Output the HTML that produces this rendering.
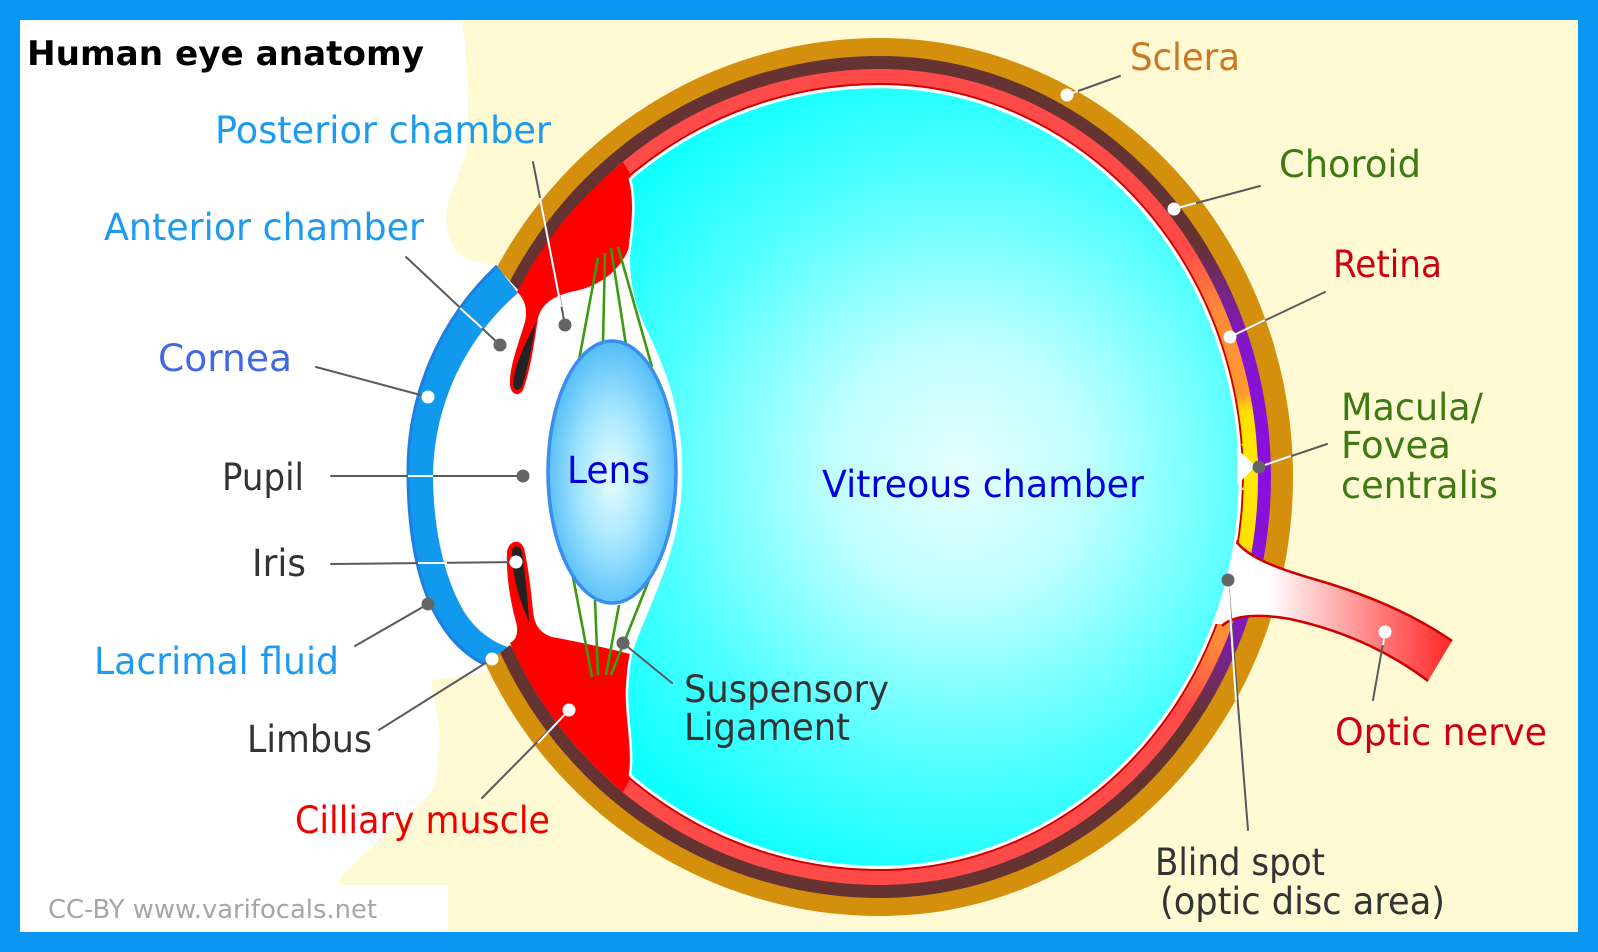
<!DOCTYPE html>
<html>
<head>
<meta charset="utf-8">
<style>
html,body{margin:0;padding:0;background:#0A97F4;}
svg{display:block;}
text{font-family:"DejaVu Sans","Liberation Sans",sans-serif;}
</style>
</head>
<body>
<svg width="1598" height="952" viewBox="0 0 1598 952" xmlns="http://www.w3.org/2000/svg">
<defs>
  <radialGradient id="gRet" gradientUnits="userSpaceOnUse" cx="1262" cy="478" r="430">
    <stop offset="0" stop-color="#FFEA00"/>
    <stop offset="0.16" stop-color="#FFE000"/>
    <stop offset="0.2" stop-color="#FF9A30"/>
    <stop offset="0.4" stop-color="#FF8A3A"/>
    <stop offset="0.56" stop-color="#FF4A4A"/>
    <stop offset="1" stop-color="#FF4A4A"/>
  </radialGradient>
  <radialGradient id="gCho" gradientUnits="userSpaceOnUse" cx="1262" cy="478" r="430">
    <stop offset="0" stop-color="#8A0FE0"/>
    <stop offset="0.3" stop-color="#8514D0"/>
    <stop offset="0.42" stop-color="#782290"/>
    <stop offset="0.56" stop-color="#663333"/>
    <stop offset="1" stop-color="#663333"/>
  </radialGradient>
  <radialGradient id="gCyan" gradientUnits="userSpaceOnUse" cx="960" cy="470" r="430">
    <stop offset="0" stop-color="#E6FFFF"/>
    <stop offset="0.3" stop-color="#BFFFFF"/>
    <stop offset="0.7" stop-color="#50FFFF"/>
    <stop offset="1" stop-color="#10FFFF"/>
  </radialGradient>
  <radialGradient id="gLens" cx="0.5" cy="0.52" r="0.55">
    <stop offset="0" stop-color="#E8FFFF"/>
    <stop offset="0.5" stop-color="#A0E4FF"/>
    <stop offset="1" stop-color="#4AB8F5"/>
  </radialGradient>
  <linearGradient id="gNerve" gradientUnits="userSpaceOnUse" x1="1245" y1="0" x2="1445" y2="0">
    <stop offset="0" stop-color="#FFFFFF"/>
    <stop offset="0.12" stop-color="#FFFFFF"/>
    <stop offset="1" stop-color="#FF2E2E"/>
  </linearGradient>
</defs>

<!-- frame -->
<rect x="0" y="0" width="1598" height="952" fill="#0A97F4"/>
<rect x="20" y="20" width="1558" height="912" fill="#FFFFFF"/>

<!-- cream background -->
<path d="M 462 20 L 1578 20 L 1578 932 L 320 932 L 337 883 C 355 860, 372 848, 383 837 C 410 812, 428 800, 433 787 C 440 765, 440 735, 438 720 C 436 700, 430 688, 432 680 L 486 672 L 600 470 L 497 266 C 480 262, 468 262, 460 255 C 448 245, 445 225, 447 210 C 450 190, 460 175, 466 150 C 470 120, 468 80, 466 60 C 465 40, 463 30, 462 20 Z" fill="#FFFAD4"/>

<!-- watermark box -->
<rect x="20" y="885" width="428" height="47" fill="#FFFFFF"/>
<text x="48" y="918" font-size="26" fill="#A6A6A6" textLength="329" lengthAdjust="spacingAndGlyphs">CC-BY www.varifocals.net</text>

<!-- eye layers -->
<path d="M 880 38 A 413 439 0 0 1 880 916 A 436 439 0 0 1 880 38 Z" fill="#D4900C"/>
<path d="M 880 56 A 391 421 0 0 1 880 898 A 418 421 0 0 1 880 56 Z" fill="url(#gCho)"/>
<path d="M 880 69 A 378 408 0 0 1 880 885 A 405 408 0 0 1 880 69 Z" fill="url(#gRet)"/>
<path d="M 880 83 A 364 394 0 0 1 880 871 A 391 394 0 0 1 880 83 Z" fill="#D00000"/>
<path d="M 880 85 A 362 392 0 0 1 880 869 A 389 392 0 0 1 880 85 Z" fill="#FFFFFF"/>

<!-- optic nerve -->
<path d="M 1234 538 C 1244 556, 1275 568, 1317 580 C 1362 593, 1410 612, 1452 641 L 1428 681 C 1395 656, 1350 632, 1290 619 C 1262 614, 1234 614, 1222 624 L 1190 624 L 1190 538 Z" fill="url(#gNerve)"/>
<path d="M 1234 538 C 1244 556, 1275 568, 1317 580 C 1362 593, 1410 612, 1452 641" fill="none" stroke="#CC0000" stroke-width="2.5"/>
<path d="M 1222 626 C 1234 614, 1262 614, 1290 619 C 1350 632, 1395 656, 1428 681" fill="none" stroke="#CC0000" stroke-width="2.5"/>

<!-- front interior white -->
<path d="M 497 267 L 520 292 L 625 182 L 690 182 L 690 772 L 625 772 L 510 645 L 485 664 L 380 664 L 380 267 Z" fill="#FFFFFF"/>

<!-- ciliary body top + iris -->
<path d="M 517 292 A 405 408 0 0 1 623 162 L 631 175 C 636 195, 637 228, 628 250 C 620 270, 600 286, 575 291 C 555 295, 542 303, 538 318 C 534 345, 530 372, 523 390 C 519 397, 511 395, 510 385 C 509 368, 518 345, 525 322 C 528 308, 524 298, 517 292 Z" fill="#FF0000"/>
<path d="M 536 322 C 532 345, 528 368, 522 386 C 519 392, 513 391, 513 383 C 514 368, 524 345, 536 322 Z" fill="#222222"/>

<!-- ciliary body bottom + iris -->
<path d="M 510 643 A 405 408 0 0 0 623 792 L 630 779 C 636 755, 626 715, 627 690 C 627 672, 630 660, 630 654 C 615 650, 580 642, 552 637 C 540 633, 534 625, 533 610 C 531 590, 528 565, 524 548 C 520 538, 509 540, 507 552 C 506 575, 510 600, 516 622 C 519 633, 516 640, 510 643 Z" fill="#FF0000"/>
<path d="M 512 552 C 512 545, 520 544, 522 552 C 525 575, 528 600, 529 622 C 522 605, 512 580, 512 552 Z" fill="#222222"/>

<!-- vitreous chamber -->
<path d="M 630 179 A 387 390 0 0 1 880 87 A 360 390 0 0 1 880 867 A 387 390 0 0 1 630 775 C 634 750, 626 715, 627 690 C 628 668, 630 652, 637 636 C 645 615, 656 592, 665 565 C 674 540, 681 510, 681 472 C 681 440, 676 410, 668 385 C 660 360, 650 340, 641 320 C 632 300, 628 275, 629 255 C 631 235, 637 205, 630 179 Z" fill="url(#gCyan)" stroke="#FFFFFF" stroke-width="2.5"/>

<!-- fovea -->
<path d="M 1241 444 Q 1246 452 1258 458 L 1258 476 Q 1246 482 1241 490 L 1250 490 L 1250 444 Z" fill="#FFE600"/>
<path d="M 1237 449 L 1256 466 L 1237 485 Z" fill="#FFFFFF"/>

<!-- suspensory ligament fibers -->
<g stroke="#3A9A12" stroke-width="2.6" fill="none">
  <line x1="598" y1="258" x2="579" y2="360"/>
  <line x1="605" y1="253" x2="603" y2="343"/>
  <line x1="611" y1="248" x2="626" y2="345"/>
  <line x1="618" y1="247" x2="652" y2="367"/>
  <line x1="573" y1="577" x2="592" y2="677"/>
  <line x1="595" y1="600" x2="598" y2="675"/>
  <line x1="619" y1="605" x2="606" y2="675"/>
  <line x1="649" y1="580" x2="611" y2="675"/>
</g>

<!-- lens -->
<ellipse cx="612" cy="472" rx="64" ry="131" fill="url(#gLens)" stroke="#3A8EF0" stroke-width="3.5"/>

<!-- cornea -->
<path d="M 497 266 A 280 280 0 0 0 408 472 C 408 540, 420 590, 440 622 C 452 642, 468 656, 484 664 L 508 647 C 492 642, 475 630, 463 610 C 445 578, 433 532, 433 472 A 245 245 0 0 1 518 293 Z" fill="#1199EE"/>
<path d="M 497 266 A 280 280 0 0 0 408 472 C 408 540, 420 590, 440 622 C 452 642, 468 656, 484 664" fill="none" stroke="#1B7FE3" stroke-width="3"/>

<!-- leader lines (grey) -->
<g stroke="#5A5A5A" stroke-width="2" fill="none" stroke-linecap="round">
  <line x1="533" y1="162" x2="565" y2="325"/>
  <line x1="406" y1="257" x2="500" y2="345"/>
  <line x1="316" y1="367" x2="428" y2="397"/>
  <line x1="331" y1="476" x2="523" y2="476"/>
  <line x1="331" y1="564" x2="516" y2="562"/>
  <line x1="355" y1="646" x2="428" y2="604"/>
  <line x1="379" y1="730" x2="492" y2="659"/>
  <line x1="482" y1="798" x2="569" y2="710"/>
  <line x1="672" y1="683" x2="623" y2="643"/>
  <line x1="1120" y1="76" x2="1067" y2="95"/>
  <line x1="1260" y1="186" x2="1174" y2="209"/>
  <line x1="1325" y1="292" x2="1230" y2="337"/>
  <line x1="1327" y1="444" x2="1259" y2="467"/>
  <line x1="1373" y1="700" x2="1385" y2="632"/>
  <line x1="1248" y1="830" x2="1228" y2="580"/>
</g>
<!-- leader lines (white segments over coloured areas) -->
<g stroke="#FFFFFF" stroke-width="2" fill="none">
  <line x1="540" y1="198" x2="561" y2="307"/>
  <line x1="460" y1="308" x2="482" y2="328"/>
  <line x1="408" y1="476" x2="433" y2="476"/>
  <line x1="418" y1="563" x2="447" y2="563"/>
  <line x1="538" y1="743" x2="569" y2="710"/>
  <line x1="1078" y1="91" x2="1067" y2="95"/>
  <line x1="1196" y1="203" x2="1174" y2="209"/>
  <line x1="1265" y1="320" x2="1230" y2="337"/>
  <line x1="1291" y1="456" x2="1259" y2="467"/>
  <line x1="1383" y1="645" x2="1385" y2="632"/>
  <line x1="1228" y1="583" x2="1236" y2="700"/>
</g>
<!-- dots -->
<g>
  <circle cx="565" cy="325" r="6.5" fill="#666666"/>
  <circle cx="500" cy="345" r="6.5" fill="#666666"/>
  <circle cx="428" cy="397" r="6.5" fill="#FFFFFF"/>
  <circle cx="523" cy="476" r="6.5" fill="#666666"/>
  <circle cx="516" cy="562" r="6.5" fill="#FFFFFF"/>
  <circle cx="428" cy="604" r="6.5" fill="#666666"/>
  <circle cx="492" cy="659" r="6.5" fill="#FFFFFF"/>
  <circle cx="569" cy="710" r="6.5" fill="#FFFFFF"/>
  <circle cx="623" cy="643" r="6.5" fill="#666666"/>
  <circle cx="1067" cy="95" r="6.5" fill="#FFFFFF"/>
  <circle cx="1174" cy="209" r="6.5" fill="#FFFFFF"/>
  <circle cx="1230" cy="337" r="6.5" fill="#FFFFFF"/>
  <circle cx="1259" cy="467" r="6.5" fill="#666666"/>
  <circle cx="1385" cy="632" r="6.5" fill="#FFFFFF"/>
  <circle cx="1228" cy="580" r="6.5" fill="#666666"/>
</g>

<!-- labels -->
<text x="27" y="65" font-size="34" font-weight="bold" fill="#000000" textLength="397" lengthAdjust="spacingAndGlyphs">Human eye anatomy</text>
<g font-size="37">
  <text x="215" y="143" fill="#1E9BEF" textLength="336" lengthAdjust="spacingAndGlyphs">Posterior chamber</text>
  <text x="104" y="240" fill="#1E9BEF" textLength="320" lengthAdjust="spacingAndGlyphs">Anterior chamber</text>
  <text x="158" y="371" fill="#4169E6" textLength="134" lengthAdjust="spacingAndGlyphs">Cornea</text>
  <text x="222" y="490" fill="#333333" textLength="82" lengthAdjust="spacingAndGlyphs">Pupil</text>
  <text x="252" y="576" fill="#333333" textLength="54" lengthAdjust="spacingAndGlyphs">Iris</text>
  <text x="94" y="674" fill="#1E9BEF" textLength="245" lengthAdjust="spacingAndGlyphs">Lacrimal fluid</text>
  <text x="247" y="752" fill="#333333" textLength="125" lengthAdjust="spacingAndGlyphs">Limbus</text>
  <text x="295" y="833" fill="#EE0000" textLength="255" lengthAdjust="spacingAndGlyphs">Cilliary muscle</text>
  <text x="684" y="702" fill="#333333" textLength="205" lengthAdjust="spacingAndGlyphs">Suspensory</text>
  <text x="684" y="740" fill="#333333" textLength="166" lengthAdjust="spacingAndGlyphs">Ligament</text>
  <text x="567" y="483" fill="#0000DD" textLength="83" lengthAdjust="spacingAndGlyphs">Lens</text>
  <text x="822" y="497" fill="#0000DD" textLength="322" lengthAdjust="spacingAndGlyphs">Vitreous chamber</text>
  <text x="1130" y="70" fill="#CC7722" textLength="110" lengthAdjust="spacingAndGlyphs">Sclera</text>
  <text x="1279" y="177" fill="#3E7A13" textLength="142" lengthAdjust="spacingAndGlyphs">Choroid</text>
  <text x="1333" y="277" fill="#CC0011" textLength="109" lengthAdjust="spacingAndGlyphs">Retina</text>
  <text x="1341" y="420" fill="#3E7A13" textLength="142" lengthAdjust="spacingAndGlyphs">Macula/</text>
  <text x="1341" y="458" fill="#3E7A13" textLength="110" lengthAdjust="spacingAndGlyphs">Fovea</text>
  <text x="1341" y="498" fill="#3E7A13" textLength="157" lengthAdjust="spacingAndGlyphs">centralis</text>
  <text x="1335" y="745" fill="#CC0011" textLength="212" lengthAdjust="spacingAndGlyphs">Optic nerve</text>
  <text x="1155" y="875" fill="#333333" textLength="170" lengthAdjust="spacingAndGlyphs">Blind spot</text>
  <text x="1160" y="914" fill="#333333" textLength="285" lengthAdjust="spacingAndGlyphs">(optic disc area)</text>
</g>
</svg>
</body>
</html>
